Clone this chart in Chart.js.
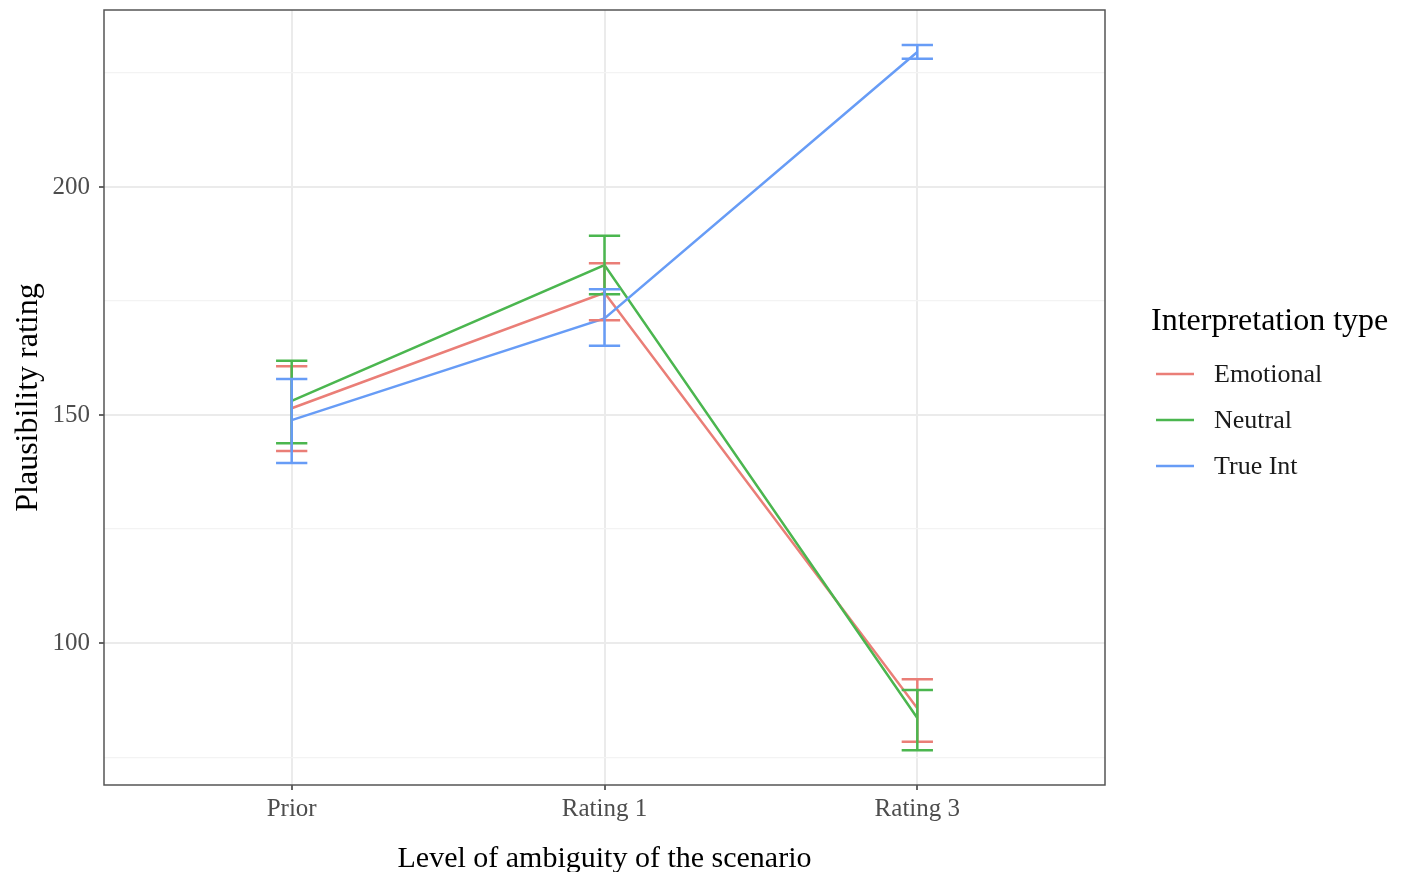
<!DOCTYPE html>
<html><head><meta charset="utf-8">
<script src="https://cdn.jsdelivr.net/npm/chart.js@4/dist/chart.umd.min.js"></script>
<style>
html,body{margin:0;padding:0;background:#fff;}
#wrap{position:relative;width:1408px;height:872px;}
canvas{position:absolute;left:0;top:0;}
</style></head><body>
<div id="wrap"><canvas id="c" width="1408" height="872"></canvas></div>
<script>
const categories = ['Prior', 'Rating 1', 'Rating 3'];
const seriesNames = ['Emotional', 'Neutral', 'True Int'];
const seriesColors = ['#EA7E77', '#4BB64F', '#679CF6'];
const emotionalMean = [151.5, 176.8, 85.7];
const emotionalLow  = [142.1, 170.8, 78.4];
const emotionalHigh = [160.7, 183.3, 92.1];
const neutralMean = [153.1, 182.9, 83.6];
const neutralLow  = [143.8, 176.5, 76.5];
const neutralHigh = [161.9, 189.3, 89.7];
const trueIntMean = [148.9, 171.2, 229.6];
const trueIntLow  = [139.5, 165.2, 228.1];
const trueIntHigh = [157.9, 177.6, 231.1];
const yMajorTicks = [100, 150, 200];
const yMinorTicks = [75, 125, 175, 225];
const legendTitle = 'Interpretation type';
const xTitle = 'Level of ambiguity of the scenario';
const yTitle = 'Plausibility rating';

const means = [emotionalMean, neutralMean, trueIntMean];
const lows = [emotionalLow, neutralLow, trueIntLow];
const highs = [emotionalHigh, neutralHigh, trueIntHigh];
const SERIF = "'Liberation Serif', 'Times New Roman', serif";

const datasets = seriesNames.map((name, s) => ({
  label: name,
  data: categories.map((c, i) => ({x: i, y: means[s][i]})),
  borderColor: seriesColors[s],
  backgroundColor: seriesColors[s],
  borderWidth: 2.5,
  pointRadius: 0,
  tension: 0,
  order: seriesNames.length - 1 - s
}));

const errorBars = {
  id: 'errorBars',
  afterDatasetsDraw(chart) {
    const {ctx, scales: {x, y}} = chart;
    ctx.save();
    ctx.lineWidth = 2.5;
    ctx.lineCap = 'butt';
    seriesNames.forEach((n, s) => {
      ctx.strokeStyle = seriesColors[s];
      categories.forEach((c, i) => {
        const px = x.getPixelForValue(i);
        const l = x.getPixelForValue(i - 0.05), r = x.getPixelForValue(i + 0.05);
        const yl = y.getPixelForValue(lows[s][i]), yh = y.getPixelForValue(highs[s][i]);
        ctx.beginPath();
        ctx.moveTo(px, yl); ctx.lineTo(px, yh);
        ctx.moveTo(l, yl); ctx.lineTo(r, yl);
        ctx.moveTo(l, yh); ctx.lineTo(r, yh);
        ctx.stroke();
      });
    });
    ctx.restore();
  }
};

const panelBorder = {
  id: 'panelBorder',
  afterDraw(chart) {
    const {ctx, chartArea: a} = chart;
    ctx.save();
    ctx.strokeStyle = '#555555';
    ctx.lineWidth = 1.5;
    ctx.strokeRect(a.left, a.top, a.right - a.left, a.bottom - a.top);
    ctx.restore();
  }
};

const legendPlugin = {
  id: 'ggLegend',
  afterDraw(chart) {
    const {ctx} = chart;
    ctx.save();
    ctx.fillStyle = '#000';
    ctx.textBaseline = 'middle';
    ctx.textAlign = 'left';
    ctx.font = "32px " + SERIF;
    ctx.fillText(legendTitle, 1151, 322);
    ctx.font = "26px " + SERIF;
    seriesNames.forEach((n, s) => {
      const yy = 374 + s * 46;
      ctx.strokeStyle = seriesColors[s];
      ctx.lineWidth = 2.5;
      ctx.beginPath(); ctx.moveTo(1156, yy); ctx.lineTo(1194, yy); ctx.stroke();
      ctx.fillStyle = '#1a1a1a';
      ctx.fillText(n, 1214, yy + 1);
    });
    ctx.restore();
  }
};

new Chart(document.getElementById('c'), {
  type: 'line',
  data: {datasets},
  options: {
    responsive: false,
    devicePixelRatio: 1,
    animation: false,
    layout: {padding: {left: 0, right: 303, top: 10, bottom: 0}},
    plugins: {legend: {display: false}, tooltip: {enabled: false}},
    scales: {
      x: {
        type: 'linear', min: -0.6, max: 2.6,
        afterBuildTicks: s => { s.ticks = categories.map((c, i) => ({value: i})); },
        afterFit: s => { s.height = 87; s.paddingLeft = 0; s.paddingRight = 0; },
        ticks: {
          callback: v => categories[v],
          font: {family: SERIF, size: 25}, color: '#4d4d4d', padding: 4, maxRotation: 0, autoSkip: false
        },
        grid: {color: '#ebebeb', lineWidth: 2, tickLength: 5, tickColor: '#333', tickWidth: 1.5},
        border: {display: false},
        title: {display: true, text: xTitle, color: '#000', font: {family: SERIF, size: 30}, padding: {top: 0, bottom: -5}}
      },
      y: {
        type: 'linear', min: 68.9, max: 238.8,
        afterBuildTicks: s => {
          s.ticks = yMinorTicks.concat(yMajorTicks).sort((a, b) => a - b).map(v => ({value: v}));
        },
        afterFit: s => { s.width = 104; s.paddingTop = 0; s.paddingBottom = 0; },
        ticks: {
          callback: v => yMajorTicks.includes(v) ? String(v) : '',
          font: {family: SERIF, size: 25}, color: '#4d4d4d', padding: 9
        },
        grid: {
          color: c => (c.tick && yMajorTicks.includes(c.tick.value)) ? '#ebebeb' : '#f3f3f3',
          lineWidth: c => (c.tick && yMajorTicks.includes(c.tick.value)) ? 2 : 1.2,
          tickLength: 5,
          tickColor: c => (c.tick && yMajorTicks.includes(c.tick.value)) ? '#333' : 'rgba(0,0,0,0)',
          tickWidth: 1.5
        },
        border: {display: false},
        title: {display: true, text: yTitle, color: '#000', font: {family: SERIF, size: 32}, padding: {top: 9, bottom: 0}}
      }
    }
  },
  plugins: [errorBars, panelBorder, legendPlugin]
});
</script>
</body></html>
